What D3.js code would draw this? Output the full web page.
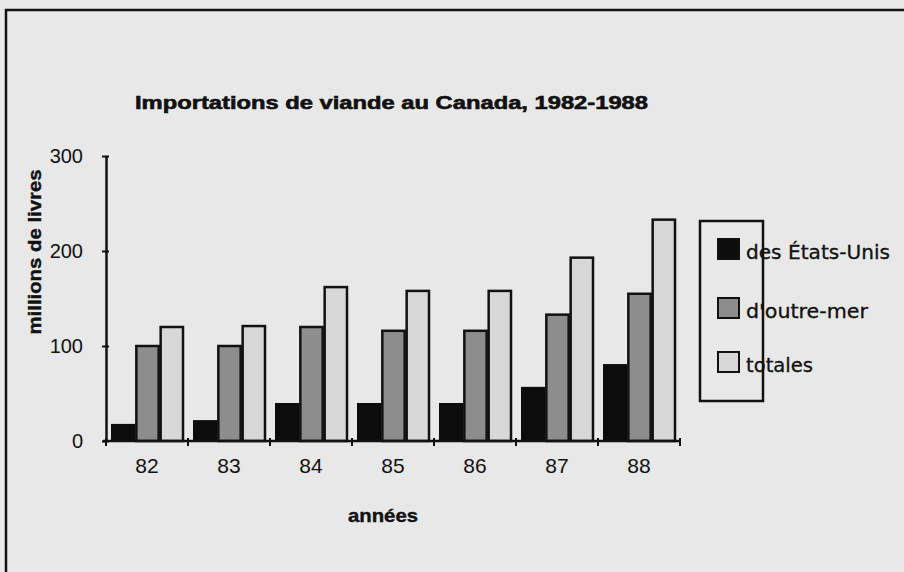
<!DOCTYPE html>
<html>
<head>
<meta charset="utf-8">
<script src="https://cdn.jsdelivr.net/npm/d3@7"></script>
<style>
  body { margin: 0; background: #e8e8e8; }
  svg { display: block; }
</style>
</head>
<body>
<div id="chart"></div>
<script>
// data
const years = ['82', '83', '84', '85', '86', '87', '88'];
const series = ['des États-Unis', "d'outre-mer", 'totales'];
const usa = [18, 22, 40, 40, 40, 57, 81];
const overseas = [100, 100, 120, 116, 116, 133, 155];
const totals = [120, 121, 162, 158, 158, 193, 233];
const yTicks = [0, 100, 200, 300];

const fills = ['#0c0c0c', '#8d8d8d', '#d7d7d7'];

const width = 904, height = 572;
let svg = d3.select('#chart').append('svg')
    .attr('width', width).attr('height', height);

svg.append('rect').attr('width', width).attr('height', height).attr('fill', '#e8e8e8');

// scan frame (left + top edges only)
svg.append('path')
    .attr('d', 'M6,572 L6,10 L904,10')
    .attr('fill', 'none').attr('stroke', '#111').attr('stroke-width', 2.5);

let x = d3.scaleBand().domain(years).range([106, 680]);
let xs = d3.scaleBand().domain(series).range([5, 78]);
let y = d3.scaleLinear().domain([0, 300]).range([441, 156]);

let rows = years.map((yr, i) => ({year: yr, vals: [usa[i], overseas[i], totals[i]]}));

// bars
let groups = svg.append('g').selectAll('g').data(rows).join('g')
    .attr('transform', d => 'translate(' + x(d.year) + ',0)');

groups.selectAll('rect')
    .data(d => d.vals.map((v, k) => ({key: series[k], k: k, v: v})))
    .join('rect')
    .attr('x', d => xs(d.key) + (d.k === 0 ? 0 : 1))
    .attr('width', d => xs.bandwidth() - (d.k === 0 ? 0 : 2))
    .attr('y', d => y(d.v))
    .attr('height', d => y(0) - y(d.v))
    .attr('fill', d => fills[d.k])
    .attr('stroke', d => d.k === 0 ? 'none' : '#111')
    .attr('stroke-width', 2.5);

// y axis
let yAxis = svg.append('g').attr('transform', 'translate(106,0)')
    .call(d3.axisLeft(y).tickValues(yTicks).tickSizeInner(4).tickSizeOuter(0).tickPadding(19));
yAxis.select('.domain').attr('stroke', '#111').attr('stroke-width', 2.5);
yAxis.selectAll('.tick line').attr('x1', -4).attr('x2', 3).attr('stroke', '#111').attr('stroke-width', 2);
yAxis.selectAll('.tick text')
    .attr('font-family', 'Liberation Sans, Arial, sans-serif')
    .attr('font-size', 20).attr('fill', '#111');

// x axis with ticks at band boundaries
let bounds = years.map(d => x(d)).concat([x.range()[1]]);
let xAxis = svg.append('g').attr('transform', 'translate(0,' + y(0) + ')')
    .call(d3.axisBottom(x).tickSize(0).tickPadding(17));
xAxis.select('.domain').attr('d', 'M103,0H681').attr('stroke', '#111').attr('stroke-width', 2.5);
xAxis.selectAll('.tick text')
    .attr('font-family', 'Liberation Sans Narrow, Liberation Sans, Arial, sans-serif')
    .attr('font-size', 21).attr('fill', '#111');
xAxis.selectAll('.bound').data(bounds).join('line')
    .attr('class', 'bound')
    .attr('x1', d => d).attr('x2', d => d)
    .attr('y1', -3).attr('y2', 5)
    .attr('stroke', '#111').attr('stroke-width', 2);

// titles
svg.append('text')
    .attr('x', 135).attr('y', 109)
    .attr('font-family', 'Liberation Sans, Arial, sans-serif')
    .attr('font-weight', 'bold').attr('font-size', 18)
    .attr('textLength', 513).attr('lengthAdjust', 'spacingAndGlyphs')
    .attr('fill', '#111').attr('stroke', '#111').attr('stroke-width', 0.6)
    .text('Importations de viande au Canada, 1982-1988');

svg.append('text')
    .attr('transform', 'translate(41,252) rotate(-90)')
    .attr('text-anchor', 'middle')
    .attr('font-family', 'Liberation Sans, Arial, sans-serif')
    .attr('font-weight', 'bold').attr('font-size', 19)
    .attr('textLength', 165).attr('lengthAdjust', 'spacingAndGlyphs')
    .attr('fill', '#111').attr('stroke', '#111').attr('stroke-width', 0.4)
    .text('millions de livres');

svg.append('text')
    .attr('x', 383).attr('y', 522)
    .attr('text-anchor', 'middle')
    .attr('font-family', 'Liberation Sans, Arial, sans-serif')
    .attr('font-weight', 'bold').attr('font-size', 19)
    .attr('textLength', 70).attr('lengthAdjust', 'spacingAndGlyphs')
    .attr('fill', '#111').attr('stroke', '#111').attr('stroke-width', 0.4)
    .text('années');

// legend
let legend = svg.append('g');
legend.append('rect')
    .attr('x', 700).attr('y', 221).attr('width', 63).attr('height', 180)
    .attr('fill', 'none').attr('stroke', '#111').attr('stroke-width', 2.5);

let legendY = [249, 308, 362];
let items = legend.selectAll('g.item').data(series).join('g')
    .attr('class', 'item')
    .attr('transform', (d, i) => 'translate(718,' + legendY[i] + ')');
items.append('rect')
    .attr('x', 0).attr('y', -10).attr('width', 21).attr('height', 20)
    .attr('fill', (d, i) => fills[i])
    .attr('stroke', '#111').attr('stroke-width', 2);
let legendLen = [144, 122, 67];
items.append('text')
    .attr('x', 28).attr('y', 10)
    .attr('font-family', 'DejaVu Sans, sans-serif')
    .attr('font-size', 19)
    .attr('textLength', (d, i) => legendLen[i]).attr('lengthAdjust', 'spacingAndGlyphs')
    .attr('fill', '#111').attr('stroke', '#111').attr('stroke-width', 0.3)
    .text(d => d);
</script>
</body>
</html>
